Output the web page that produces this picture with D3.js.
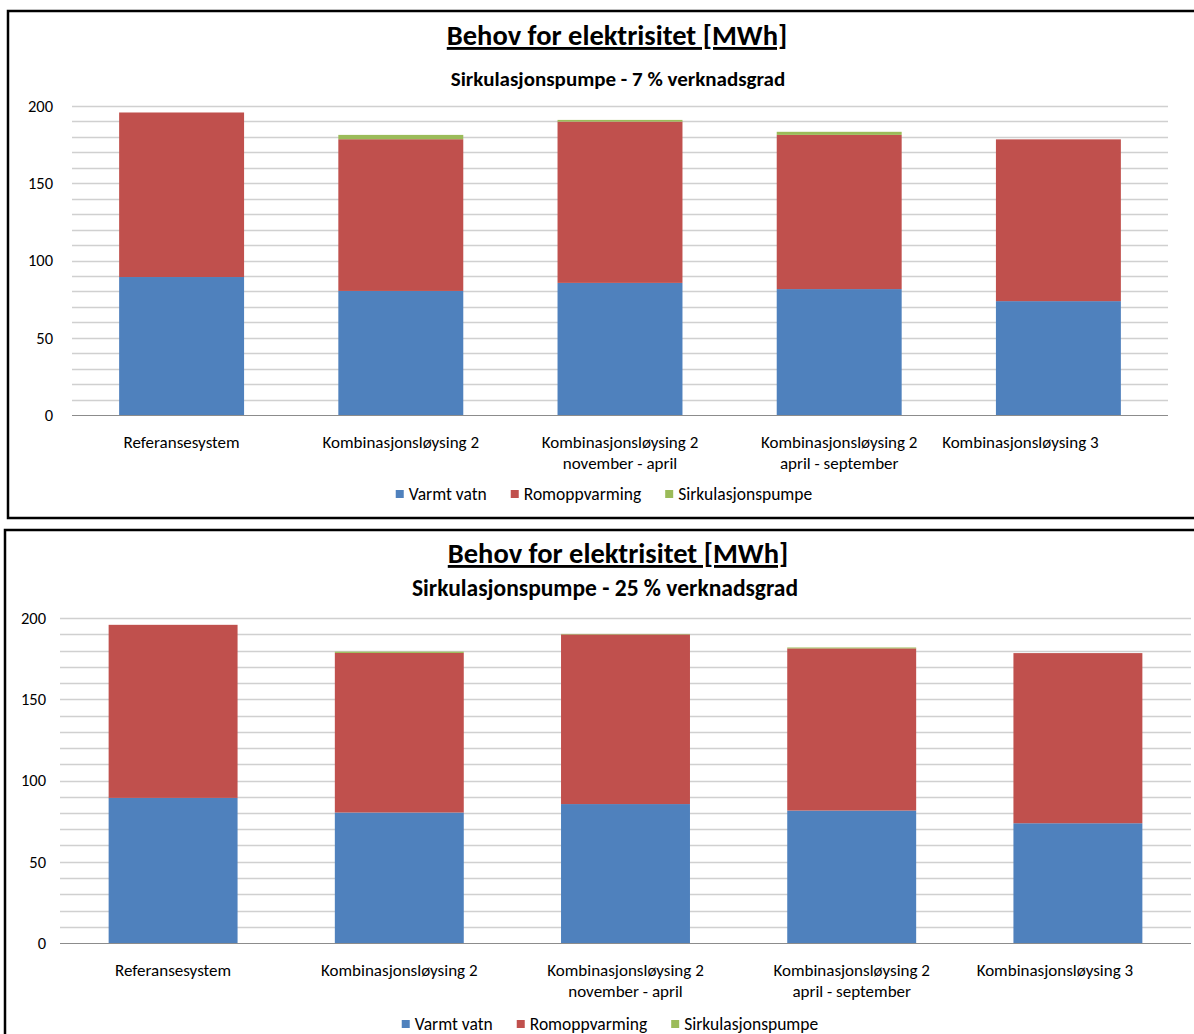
<!DOCTYPE html>
<html>
<head>
<meta charset="utf-8">
<script src="https://cdn.jsdelivr.net/npm/d3@7"></script>
<style>
  html, body { margin: 0; padding: 0; background: #fff; }
  svg { display: block; font-family: Carlito, Lato, "Open Sans", sans-serif; }
</style>
</head>
<body>
<svg id="chart" width="1194" height="1034"></svg>
<script>
// ---- data ----
const categories = [
  ["Referansesystem"],
  ["Kombinasjonsløysing 2"],
  ["Kombinasjonsløysing 2", "november - april"],
  ["Kombinasjonsløysing 2", "april - september"],
  ["Kombinasjonsløysing 3"]
];
const seriesNames = ["Varmt vatn", "Romoppvarming", "Sirkulasjonspumpe"];
const varmtVatn = [89.3, 80.3, 85.5, 81.5, 73.7];
const romoppvarming = [106.5, 98.2, 104.4, 99.8, 104.7];
const sirkPumpe7 = [0, 2.8, 1.1, 2.0, 0];
const sirkPumpe25 = [0, 0.8, 0.3, 0.55, 0];
const yTicks = [0, 50, 100, 150, 200];
const titleText = "Behov for elektrisitet [MWh]";
const subtitle7 = "Sirkulasjonspumpe - 7 % verknadsgrad";
const subtitle25 = "Sirkulasjonspumpe - 25 % verknadsgrad";
const colors = ["#4F81BD", "#C0504D", "#9BBB59"];

const svg = d3.select("#chart");

function drawChart(cfg, green) {
  const g = svg.append("g");
  // frame
  g.append("rect")
    .attr("x", cfg.frame[0]).attr("y", cfg.frame[1])
    .attr("width", cfg.frame[2]).attr("height", cfg.frame[3])
    .attr("fill", "#fff").attr("stroke", "#000").attr("stroke-width", 2.5);

  // titles
  g.append("text")
    .attr("x", cfg.titleX).attr("y", cfg.titleY)
    .attr("text-anchor", "middle")
    .style("font-size", "28.5px").style("font-weight", "bold")
    .style("text-decoration", "underline")
    .attr("fill", "#000")
    .text(titleText);
  g.append("text")
    .attr("x", cfg.subX).attr("y", cfg.subY)
    .attr("text-anchor", "middle")
    .style("font-size", cfg.subSize + "px").style("font-weight", "bold")
    .attr("fill", "#000")
    .text(cfg.subtitle);

  const x = d3.scaleBand().domain(d3.range(categories.length))
    .range([cfg.left, cfg.right]).paddingInner(0.43).paddingOuter(0.215);
  const y = d3.scaleLinear().domain([0, 200]).range([cfg.y0, cfg.y200]);

  // gridlines (every 10)
  g.append("g").selectAll("line")
    .data(d3.range(10, 201, 10))
    .join("line")
    .attr("x1", cfg.left).attr("x2", cfg.right)
    .attr("y1", d => Math.round(y(d)) + 0.5).attr("y2", d => Math.round(y(d)) + 0.5)
    .attr("stroke", "#D0D0D0").attr("stroke-width", 1.3);

  // stacked data
  const rows = categories.map((c, i) => ({ i, v0: varmtVatn[i], v1: romoppvarming[i], v2: green[i] }));
  const stack = d3.stack().keys(["v0", "v1", "v2"])(rows);
  g.append("g").selectAll("g").data(stack).join("g")
    .attr("fill", (d, k) => colors[k])
    .selectAll("rect").data(d => d).join("rect")
    .attr("x", d => x(d.data.i))
    .attr("width", x.bandwidth())
    .attr("y", d => y(d[1]))
    .attr("height", d => Math.max(0, y(d[0]) - y(d[1])));

  // baseline axis
  g.append("line")
    .attr("x1", cfg.left).attr("x2", cfg.right)
    .attr("y1", Math.round(y(0)) + 0.5).attr("y2", Math.round(y(0)) + 0.5)
    .attr("stroke", "#8C8C8C").attr("stroke-width", 1.2);

  // y axis labels
  const yAxis = d3.axisLeft(y).tickValues(yTicks).tickSize(0).tickPadding(0);
  const ya = g.append("g").attr("transform", `translate(${cfg.yLabelX},0)`).call(yAxis);
  ya.select(".domain").remove();
  ya.selectAll("text").style("font-size", "16.5px").style("font-family", "Carlito, Lato, 'Open Sans', sans-serif").attr("fill", "#000");

  // category labels (last one nudged left as in the original, to stay inside the plot)
  const cl = g.append("g").selectAll("text").data(categories).join("text")
    .attr("x", (d, i) => x(i) + x.bandwidth() / 2 + (i === categories.length - 1 ? cfg.lastLabelShift : 0))
    .attr("y", cfg.catY)
    .attr("text-anchor", "middle")
    .style("font-size", "17px").attr("fill", "#000");
  cl.selectAll("tspan").data(d => d).join("tspan")
    .attr("x", function () { return d3.select(this.parentNode).attr("x"); })
    .attr("dy", (d, j) => j === 0 ? 0 : 21)
    .text(d => d);

  // legend
  const lg = g.append("g");
  let cx = 0;
  seriesNames.forEach((name, k) => {
    lg.append("rect").attr("x", cx).attr("y", -4).attr("width", 8).attr("height", 8).attr("fill", colors[k]);
    const t = lg.append("text").attr("x", cx + 13).attr("y", 6)
      .style("font-size", "17.5px").attr("fill", "#000").text(name);
    cx += 13 + t.node().getComputedTextLength() + 24;
  });
  const lw = cx - 24;
  lg.attr("transform", `translate(${cfg.legendCX - lw / 2},${cfg.legendY})`);
}

drawChart({
  frame: [8, 11, 1200, 507],
  titleX: 617, titleY: 45, subX: 618, subY: 86, subSize: 21, subtitle: subtitle7,
  left: 72, right: 1168, y0: 415, y200: 106, yLabelX: 53,
  catY: 448, legendCX: 604, legendY: 494, lastLabelShift: -38
}, sirkPumpe7);

drawChart({
  frame: [5, 530, 1200, 520],
  titleX: 618, titleY: 563, subX: 605, subY: 596, subSize: 23.5, subtitle: subtitle25,
  left: 60, right: 1191, y0: 943, y200: 618, yLabelX: 46,
  catY: 976, legendCX: 610, legendY: 1024, lastLabelShift: -23
}, sirkPumpe25);
</script>
</body>
</html>
